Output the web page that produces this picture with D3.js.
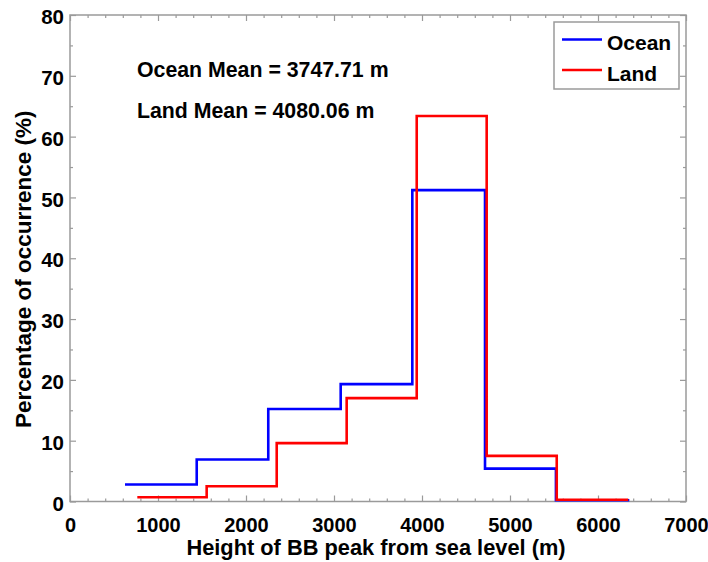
<!DOCTYPE html>
<html>
<head>
<meta charset="utf-8">
<script src="https://cdn.jsdelivr.net/npm/d3@7"></script>
<style>
  html, body { margin: 0; padding: 0; background: #fff; }
  svg { display: block; font-family: "Liberation Sans", Arial, Helvetica, sans-serif; font-weight: bold; }
</style>
</head>
<body>
<svg id="chart" width="708" height="562"></svg>
<script>
// Histogram bin edges (m) and percentage of occurrence per bin
const oceanEdges = [625, 1440, 2253, 3076, 3890, 4716, 5522, 6356];
const oceanValues = [2.8, 6.9, 15.2, 19.3, 51.2, 5.4, 0.2];
const landEdges = [765, 1553, 2349, 3144, 3940, 4735, 5531, 6344];
const landValues = [0.7, 2.5, 9.6, 17.0, 63.4, 7.5, 0.3];

const xTicks = [0, 1000, 2000, 3000, 4000, 5000, 6000, 7000];
const yTicks = [0, 10, 20, 30, 40, 50, 60, 70, 80];

const seriesNames = ["Ocean", "Land"];
const seriesColors = ["#0000ff", "#ff0000"];
const meanLabels = ["Ocean Mean = 3747.71 m", "Land Mean = 4080.06 m"];

const xTitle = "Height of BB peak from sea level (m)";
const yTitle = "Percentage of occurrence (%)";

const svg = d3.select("#chart");
const m = { left: 70, top: 15, right: 22, bottom: 60.5 };
const W = 708, H = 562;
const x0 = m.left, x1 = W - m.right, y0 = H - m.bottom, y1 = m.top;

const x = d3.scaleLinear().domain([0, 7000]).range([x0, x1]);
const y = d3.scaleLinear().domain([0, 80]).range([y0, y1]);

const axisColor = "#9a9a9a";

// minor tick values
const xMinor = d3.range(0, 7001, 200).filter(v => v % 1000 !== 0);
const yMinor = d3.range(5, 80, 10);

function styleAxis(g) {
  g.select(".domain").remove();
  g.selectAll(".tick line").attr("stroke", axisColor).attr("stroke-width", 1.2);
}

// Bottom axis with labels
const gx = svg.append("g").attr("transform", `translate(0,${y0})`)
  .call(d3.axisBottom(x).tickValues(xTicks).tickSizeInner(-6).tickSizeOuter(0).tickPadding(16).tickFormat(d3.format("d")));
styleAxis(gx);
gx.selectAll(".tick text").attr("fill", "#000").attr("font-size", 20).attr("dy", "0.71em");

svg.append("g").attr("transform", `translate(0,${y0})`)
  .call(d3.axisBottom(x).tickValues(xMinor).tickSizeInner(-3).tickSizeOuter(0).tickFormat(""))
  .call(styleAxis);

// Top axis (ticks only)
svg.append("g").attr("transform", `translate(0,${y1})`)
  .call(d3.axisTop(x).tickValues(xTicks).tickSizeInner(-6).tickSizeOuter(0).tickFormat(""))
  .call(styleAxis);
svg.append("g").attr("transform", `translate(0,${y1})`)
  .call(d3.axisTop(x).tickValues(xMinor).tickSizeInner(-3).tickSizeOuter(0).tickFormat(""))
  .call(styleAxis);

// Left axis with labels
const gy = svg.append("g").attr("transform", `translate(${x0},0)`)
  .call(d3.axisLeft(y).tickValues(yTicks).tickSizeInner(-6).tickSizeOuter(0).tickPadding(6));
styleAxis(gy);
gy.selectAll(".tick text").attr("fill", "#000").attr("font-size", 20.5).attr("dy", "0.42em");

svg.append("g").attr("transform", `translate(${x0},0)`)
  .call(d3.axisLeft(y).tickValues(yMinor).tickSizeInner(-3).tickSizeOuter(0).tickFormat(""))
  .call(styleAxis);

// Right axis (ticks only)
svg.append("g").attr("transform", `translate(${x1},0)`)
  .call(d3.axisRight(y).tickValues(yTicks).tickSizeInner(-6).tickSizeOuter(0).tickFormat(""))
  .call(styleAxis);
svg.append("g").attr("transform", `translate(${x1},0)`)
  .call(d3.axisRight(y).tickValues(yMinor).tickSizeInner(-3).tickSizeOuter(0).tickFormat(""))
  .call(styleAxis);

// Plot frame
svg.append("rect")
  .attr("x", x0).attr("y", y1).attr("width", x1 - x0).attr("height", y0 - y1)
  .attr("fill", "none").attr("stroke", axisColor).attr("stroke-width", 1.5);

// Step outline of each histogram: horizontal at each bin, vertical joins between bins
function stepPoints(edges, values) {
  const pts = [];
  values.forEach((v, i) => {
    pts.push([edges[i], v]);
    pts.push([edges[i + 1], v]);
  });
  return pts;
}
const line = d3.line().x(d => x(d[0])).y(d => y(d[1]));

const series = [
  { edges: oceanEdges, values: oceanValues, color: seriesColors[0] },
  { edges: landEdges, values: landValues, color: seriesColors[1] }
];
series.forEach(s => {
  svg.append("path")
    .attr("d", line(stepPoints(s.edges, s.values)))
    .attr("fill", "none")
    .attr("stroke", s.color)
    .attr("stroke-width", 2.6)
    .attr("stroke-linejoin", "miter")
    .attr("stroke-linecap", "butt");
});

// Mean annotations
meanLabels.forEach((t, i) => {
  svg.append("text")
    .attr("x", 137).attr("y", 77 + i * 41)
    .attr("font-size", 21.3)
    .attr("fill", "#000")
    .text(t);
});

// Legend
const lg = svg.append("g");
lg.append("rect")
  .attr("x", 554).attr("y", 22).attr("width", 125).attr("height", 67)
  .attr("fill", "#fff").attr("stroke", axisColor).attr("stroke-width", 1.5);
seriesNames.forEach((n, i) => {
  const yy = 39.5 + i * 30.5;
  lg.append("line")
    .attr("x1", 562).attr("x2", 602).attr("y1", yy).attr("y2", yy)
    .attr("stroke", seriesColors[i]).attr("stroke-width", 2.6);
  lg.append("text")
    .attr("x", 607).attr("y", yy + 10.5)
    .attr("font-size", 21).attr("fill", "#000")
    .text(n);
});

// Axis titles
svg.append("text")
  .attr("x", 376).attr("y", 555)
  .attr("text-anchor", "middle")
  .attr("font-size", 21.8).attr("fill", "#000")
  .text(xTitle);

svg.append("text")
  .attr("transform", `translate(31,${(y0 + y1) / 2 + 11}) rotate(-90)`)
  .attr("text-anchor", "middle")
  .attr("font-size", 22.5).attr("fill", "#000")
  .text(yTitle);
</script>
</body>
</html>
